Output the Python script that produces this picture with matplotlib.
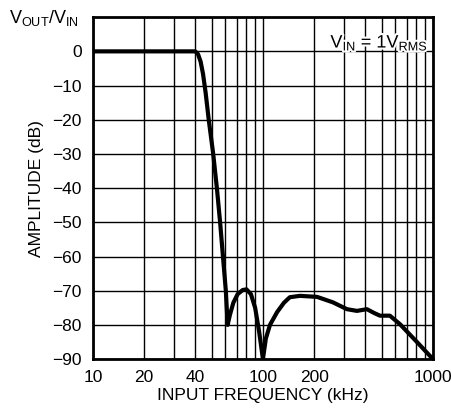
import numpy as np
import matplotlib
matplotlib.use('Agg')
import matplotlib.pyplot as plt
import matplotlib.patheffects as pe
from matplotlib.ticker import FixedLocator, NullFormatter

plt.rcParams['font.family'] = ['Liberation Sans Narrow', 'Liberation Sans', 'DejaVu Sans']

# response
freq_khz = [10, 20, 30, 38, 40, 41.5, 43, 44.4, 46, 48, 51, 53.6, 56, 58.2, 60.5, 62,
            64, 67, 71, 76, 80, 85, 90, 95, 100, 104, 110, 121, 133, 144, 165, 208,
            258, 312, 357, 409, 450, 488, 558, 640, 805, 1000]
amp_db = [0, 0, 0, 0, 0, -0.8, -3, -6.5, -12, -20, -30, -40, -50, -60, -70, -80,
          -77, -73.5, -71, -69.8, -69.6, -71, -75, -82, -90, -84, -80, -76.3, -73.5,
          -71.9, -71.5, -71.8, -73.4, -75.4, -75.9, -75.4, -76.5, -77.3, -77.3, -79.8,
          -85, -90]

xticks = [10, 20, 40, 100, 200, 1000]
yticks = [0, -10, -20, -30, -40, -50, -60, -70, -80, -90]
xgrid = [10, 20, 30, 40, 50, 60, 70, 80, 90, 100,
         200, 300, 400, 500, 600, 700, 800, 900, 1000]

fig = plt.figure(figsize=(4.51, 4.09), dpi=100)
ax = fig.add_axes([0.206, 0.122, 0.754, 0.836])
ax.set_xscale('log')
ax.set_xlim(10, 1000)
ax.set_ylim(-90, 10)

for g in xgrid:
    ax.axvline(g, color='black', lw=1.0, zorder=1)
for g in yticks:
    ax.axhline(g, color='black', lw=1.0, zorder=1)

ax.plot(freq_khz, amp_db, color='black', lw=3, solid_capstyle='round',
        solid_joinstyle='round', zorder=3)

ax.xaxis.set_major_locator(FixedLocator(xticks))
ax.xaxis.set_minor_formatter(NullFormatter())
ax.xaxis.set_minor_locator(FixedLocator([]))
ax.set_xticklabels([str(t) for t in xticks])
ax.set_yticks(yticks)
ax.set_yticklabels(['0'] + ['\u2212' + str(-t) for t in yticks[1:]])
ax.tick_params(length=0, labelsize=12.5, pad=8)

for s in ax.spines.values():
    s.set_linewidth(2)

ax.set_xlabel('INPUT FREQUENCY (kHz)', fontsize=12.5, labelpad=2)
ax.set_ylabel('AMPLITUDE (dB)', fontsize=12.5, labelpad=6)

fig.text(0.02, 0.955, r'V$_{\mathregular{OUT}}$/V$_{\mathregular{IN}}$',
         fontsize=13, va='center', ha='left')
ax.text(0.985, 0.955, r'V$_{\mathregular{IN}}$ = 1V$_{\mathregular{RMS}}$',
        transform=ax.transAxes, fontsize=13, ha='right', va='top', zorder=4,
        path_effects=[pe.withStroke(linewidth=3, foreground='white')])

fig.savefig('out.png', dpi=100)
